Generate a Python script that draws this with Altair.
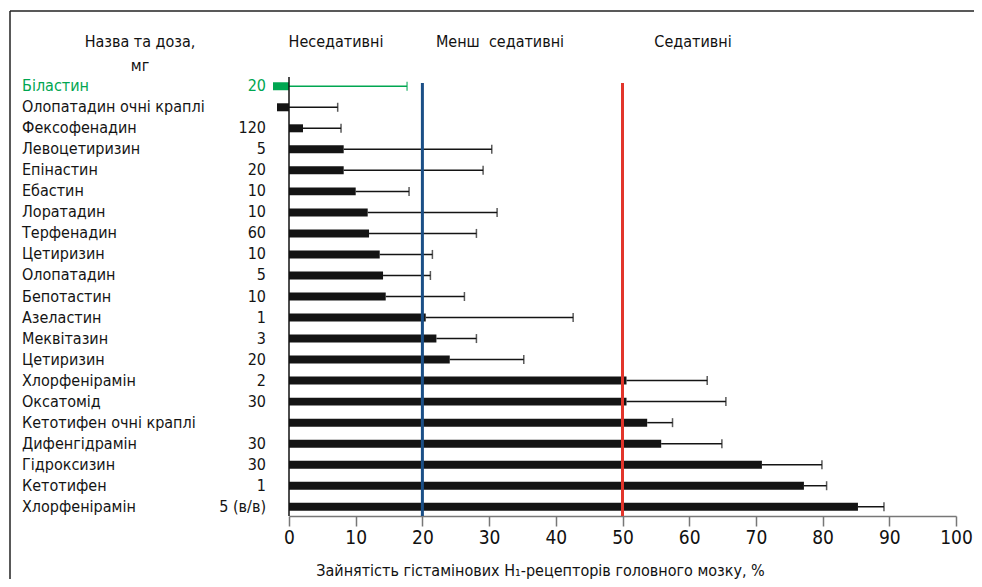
import altair as alt
import pandas as pd

drugs = ["Біластин", "Олопатадин очні краплі", "Фексофенадин", "Левоцетиризин", "Епінастин",
         "Ебастин", "Лоратадин", "Терфенадин", "Цетиризин", "Олопатадин", "Бепотастин",
         "Азеластин", "Меквітазин", "Цетиризин", "Хлорфенірамін", "Оксатомід",
         "Кетотифен очні краплі", "Дифенгідрамін", "Гідроксизин", "Кетотифен", "Хлорфенірамін"]
doses = ["20", "", "120", "5", "20", "10", "10", "60", "10", "5", "10", "1", "3", "20", "2", "30",
         "", "30", "30", "1", "5 (в/в)"]
occupancy = [-2.4, -1.8, 2.1, 8.2, 8.2, 10.0, 11.8, 12.0, 13.6, 14.1, 14.5, 20.5, 22.1, 24.1,
             50.6, 50.6, 53.7, 55.8, 70.9, 77.2, 85.3]
err_upper = [17.7, 7.3, 7.8, 30.4, 29.1, 18.0, 31.2, 28.1, 21.5, 21.2, 26.3, 42.6, 28.1, 35.2,
             62.7, 65.5, 57.5, 64.9, 79.9, 80.6, 89.2]
highlight = ["yes"] + ["no"] * 20

thresholds = [20, 50]
threshold_colors = ["#1b4f86", "#e2352b"]
headers = ["Неседативні", "Менш\u00a0\u00a0седативні", "Седативні"]
header_px = [47, 211, 404]

FONT = "DejaVu Sans Condensed, sans-serif"
W, H = 667, 439

df = pd.DataFrame({"row": list(range(len(drugs))), "drug": drugs, "dose": doses,
                   "value": occupancy, "err": err_upper, "hl": highlight})
df_thr = pd.DataFrame({"x": thresholds, "c": threshold_colors})
df_head = pd.DataFrame({"t": headers, "px": header_px})

color_scale = alt.Scale(domain=["yes", "no"], range=["#00a651", "#141414"])
x_scale = alt.Scale(domain=[0, 100], nice=False, zero=True)
y_enc = alt.Y("row:O", axis=None, sort=None,
              scale=alt.Scale(paddingInner=0.62, paddingOuter=0.25))

base = alt.Chart(df)

bars = base.mark_bar().encode(
    x=alt.X("value:Q", scale=x_scale,
            axis=alt.Axis(values=list(range(0, 101, 10)), title="Зайнятість гістамінових H₁-рецепторів головного мозку, %",
                          grid=False, domainColor="#777777", tickColor="#777777", tickSize=10,
                          domainWidth=1.5, tickWidth=1.5, labelFont=FONT, labelFontSize=19,
                          labelFlush=False,
                          labelColor="#111111", labelPadding=2, titleFont=FONT, titleFontSize=16,
                          titleFontWeight="normal", titleColor="#111111", titleX=251, titleY=54,
                          titleAlign="center", titleBaseline="middle")),
    x2=alt.datum(0),
    y=y_enc,
    color=alt.Color("hl:N", scale=color_scale, legend=None),
)

err_line = base.mark_rule(strokeWidth=1.5).encode(
    x=alt.X("value:Q", scale=x_scale),
    x2="err:Q",
    y=alt.Y("row:O", axis=None, sort=None, bandPosition=0.5),
    color=alt.Color("hl:N", scale=alt.Scale(domain=["yes", "no"], range=["#00a651", "#555555"]), legend=None),
)

err_cap = base.mark_tick(orient="vertical", size=9, thickness=1.5).encode(
    x=alt.X("err:Q", scale=x_scale),
    y=y_enc,
    color=alt.Color("hl:N", scale=alt.Scale(domain=["yes", "no"], range=["#00a651", "#333333"]), legend=None),
)

names = base.mark_text(align="left", baseline="middle", font=FONT, fontSize=16).encode(
    x=alt.value(-267),
    y=y_enc,
    text="drug:N",
    color=alt.Color("hl:N", scale=alt.Scale(domain=["yes", "no"], range=["#00a651", "#111111"]), legend=None),
)

dose_txt = base.mark_text(align="right", baseline="middle", font=FONT, fontSize=16).encode(
    x=alt.value(-23),
    y=y_enc,
    text="dose:N",
    color=alt.Color("hl:N", scale=alt.Scale(domain=["yes", "no"], range=["#00a651", "#111111"]), legend=None),
)

zero_line = alt.Chart(pd.DataFrame({"z": [0]})).mark_rule(color="#111111", strokeWidth=1.5).encode(
    x=alt.X("z:Q", scale=x_scale), y=alt.value(0), y2=alt.value(H))

thr_lines = alt.Chart(df_thr).mark_rule(strokeWidth=3).encode(
    x=alt.X("x:Q", scale=x_scale), y=alt.value(6), y2=alt.value(H),
    color=alt.Color("c:N", scale=None, legend=None))

head_txt = alt.Chart(df_head).mark_text(align="center", baseline="middle", font=FONT, fontSize=16,
                                         color="#111111").encode(
    x=alt.X("px:Q", scale=None), y=alt.value(-35), text="t:N")

left_head = alt.Chart(pd.DataFrame({"t": ["Назва та доза,", "мг"], "py": [-35, -11]})).mark_text(
    align="center", baseline="middle", font=FONT, fontSize=16, color="#111111").encode(
    x=alt.value(-149), y=alt.Y("py:Q", scale=None), text="t:N")

frame_left = alt.Chart(pd.DataFrame({"a": [0]})).mark_rule(color="#222222", strokeWidth=1.5).encode(
    x=alt.value(-279), y=alt.value(-66), y2=alt.value(H + 63))
frame_top = alt.Chart(pd.DataFrame({"a": [0]})).mark_rule(color="#222222", strokeWidth=1.5).encode(
    x=alt.value(-279), x2=alt.value(W + 18), y=alt.value(-66))

chart = alt.layer(
    bars, err_line, err_cap, zero_line, thr_lines, names, dose_txt, head_txt, left_head,
    frame_left, frame_top
).properties(
    width=W, height=H,
    autosize=alt.AutoSizeParams(type="none"),
    padding={"left": 281, "top": 69, "right": 18, "bottom": 63},
    background="white",
).configure_view(stroke=None)

chart.save("out.html", embed_options={"renderer": "svg", "actions": False})
